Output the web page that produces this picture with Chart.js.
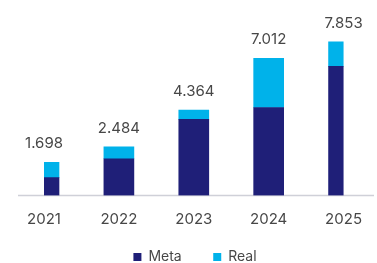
<!DOCTYPE html>
<html>
<head>
<meta charset="utf-8">
<script src="https://cdn.jsdelivr.net/npm/chart.js@4.4.1/dist/chart.umd.min.js"></script>
<style>
  html, body { margin: 0; padding: 0; background: #ffffff; }
  #wrap { width: 377px; height: 263px; }
</style>
</head>
<body>
<div id="wrap"><canvas id="revenueChart" width="377" height="263"></canvas></div>
<script>
//chart data
const years = ['2021', '2022', '2023', '2024', '2025'];
const meta = [0.91, 1.88, 3.89, 4.50, 6.60];
const real = [0.788, 0.604, 0.474, 2.512, 1.253];
const totals = ['1.698', '2.484', '4.364', '7.012', '7.853'];

const textColor = '#474747';
const fontFamily = 'Inter, "Liberation Sans", Arial, sans-serif';

//draw the total above each stacked bar
const totalLabels = {
    id: 'totalLabels',
    afterDatasetsDraw(chart) {
        const ctx = chart.ctx;
        const topMeta = chart.getDatasetMeta(1);
        ctx.save();
        ctx.fillStyle = textColor;
        ctx.font = '15px ' + fontFamily;
        ctx.textAlign = 'center';
        ctx.textBaseline = 'alphabetic';
        topMeta.data.forEach((bar, i) => {
            ctx.fillText(totals[i], bar.x, bar.y - 14);
        });
        ctx.restore();
    }
};

//light grey baseline wider than the plot area
const baseLine = {
    id: 'baseLine',
    afterLayout(chart) {
        //x axis box is squeezed so the legend fits, let the tick labels draw below it
        chart.scales.x.bottom += 30;
    },
    beforeDatasetsDraw(chart) {
        const ctx = chart.ctx;
        const y = chart.chartArea.bottom;
        ctx.save();
        ctx.strokeStyle = '#cfd0d8';
        ctx.lineWidth = 1.5;
        ctx.beginPath();
        ctx.moveTo(18, y);
        ctx.lineTo(374, y);
        ctx.stroke();
        ctx.restore();
    }
};

const ctx = document.getElementById('revenueChart').getContext('2d');
const revenueChart = new Chart(ctx, {
    type: 'bar',
    data: {
        labels: years,
        datasets: [{
            label: 'Meta',
            data: meta,
            backgroundColor: '#1f1f78',
            barThickness: 30
        }, {
            label: 'Real',
            data: real,
            backgroundColor: '#00b2ea',
            barThickness: 30
        }]
    },
    options: {
        responsive: false,
        animation: false,
        layout: {
            padding: {top: 39, left: 44, right: 31, bottom: -11}
        },
        scales: {
            x: {
                stacked: true,
                offset: false,
                grid: {display: false, drawTicks: false},
                border: {display: false},
                ticks: {
                    color: textColor,
                    padding: 15,
                    font: {family: fontFamily, size: 15}
                },
                afterFit(scale) {
                    scale.height = 23;
                }
            },
            y: {
                stacked: true,
                display: false,
                min: 0,
                max: 8
            }
        },
        plugins: {
            legend: {
                position: 'bottom',
                labels: {
                    boxWidth: 8,
                    boxHeight: 8,
                    padding: 31.5,
                    color: textColor,
                    font: {family: fontFamily, size: 14}
                }
            },
            tooltip: {enabled: false}
        }
    },
    plugins: [totalLabels, baseLine]
});
</script>
</body>
</html>
